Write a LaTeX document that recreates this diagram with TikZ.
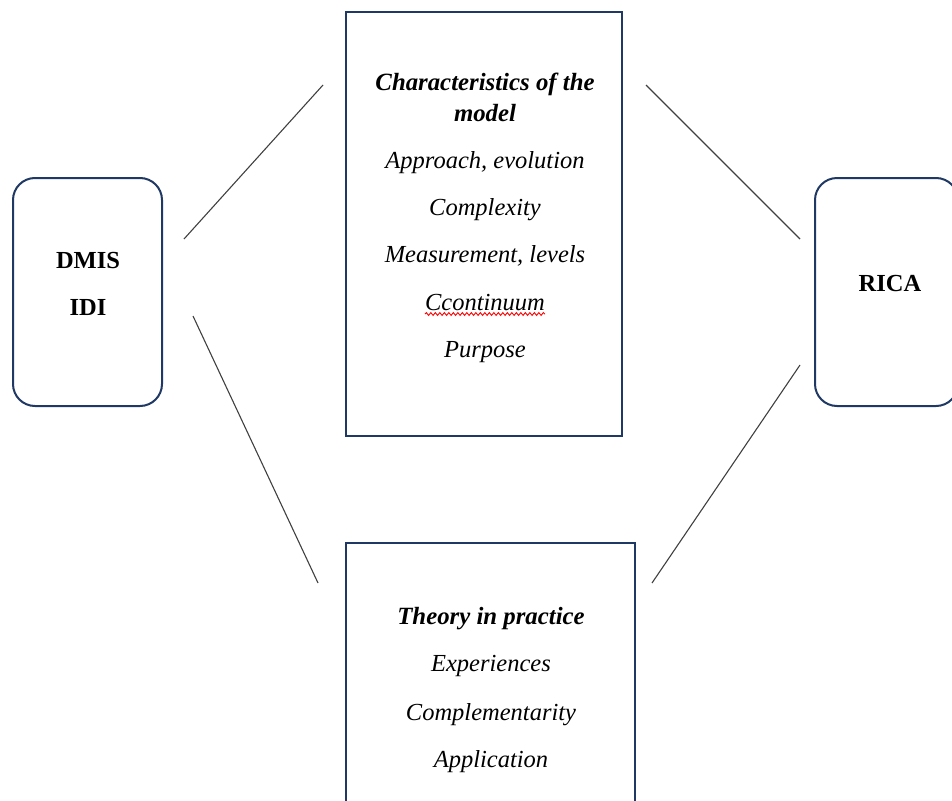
\documentclass[tikz,border=0pt]{standalone}
\usepackage{fontspec}
\setmainfont{Liberation Serif}
\usetikzlibrary{decorations.pathmorphing}
\definecolor{navy}{HTML}{1F3864}

\begin{document}
\begin{tikzpicture}[x=1pt, y=-1pt, font=\fontsize{24.5}{31}\selectfont]
  \useasboundingbox (0,0) rectangle (952,800);
  \clip (0,0) rectangle (952,800);

  % boxes
  \node (dmisbox) [draw=navy, line width=2pt, rounded corners=22pt, minimum width=149pt, minimum height=228pt] at (87.5,292) {};
  \node (ricabox) [draw=navy, line width=2pt, rounded corners=22pt, minimum width=143pt, minimum height=228pt] at (886.5,292) {};
  \node (charbox) [draw=navy, line width=2pt, minimum width=276pt, minimum height=424pt] at (484,224) {};
  \node (practbox) [draw=navy, line width=2pt, minimum width=289pt, minimum height=290pt] at (490.5,688) {};

  % texts
  \node (dmis) [anchor=base, inner sep=0, font=\fontsize{24.5}{31}\selectfont\bfseries] at (88,268) {DMIS};
  \node (idi) [anchor=base, inner sep=0, font=\fontsize{24.5}{31}\selectfont\bfseries] at (88,315) {IDI};
  \node (rica) [anchor=base, inner sep=0, font=\fontsize{24.5}{31}\selectfont\bfseries] at (890,291) {RICA};

  \node (title1) [anchor=base, inner sep=0, font=\fontsize{24.8}{31}\selectfont\bfseries\itshape] at (485,90) {Characteristics of the};
  \node (title2) [anchor=base, inner sep=0, font=\fontsize{24.8}{31}\selectfont\bfseries\itshape] at (485,121) {model};
  \node (appr) [anchor=base, inner sep=0, font=\fontsize{24.5}{31}\selectfont\itshape] at (485,168) {Approach, evolution};
  \node (compl) [anchor=base, inner sep=0, font=\fontsize{24.5}{31}\selectfont\itshape] at (485,215) {Complexity};
  \node (meas) [anchor=base, inner sep=0, font=\fontsize{24.5}{31}\selectfont\itshape] at (485,262) {Measurement, levels};
  \node (cc) [anchor=base, inner sep=0, font=\fontsize{24.5}{31}\selectfont\itshape] at (485,310) {Ccontinuum};
  \node (purp) [anchor=base, inner sep=0, font=\fontsize{24.5}{31}\selectfont\itshape] at (485,357) {Purpose};
  \draw[red, line width=0.9pt, decorate, decoration={snake, amplitude=1.4pt, segment length=4.5pt}]
    ([yshift=-4pt]cc.base west) -- ([yshift=-4pt]cc.base east);

  \node (theory) [anchor=base, inner sep=0, font=\fontsize{24.8}{31}\selectfont\bfseries\itshape] at (491,624) {Theory in practice};
  \node (exper) [anchor=base, inner sep=0, font=\fontsize{24.5}{31}\selectfont\itshape] at (491,671) {Experiences};
  \node (compt) [anchor=base, inner sep=0, font=\fontsize{24.5}{31}\selectfont\itshape] at (491,720) {Complementarity};
  \node (appl) [anchor=base, inner sep=0, font=\fontsize{24.5}{31}\selectfont\itshape] at (491,767) {Application};

  % connectors
  \coordinate (a1) at (184,239);
  \coordinate (a2) at (323,85);
  \coordinate (b1) at (193,316);
  \coordinate (b2) at (318,583);
  \coordinate (c1) at (646,85);
  \coordinate (c2) at (800,239);
  \coordinate (d1) at (652,583);
  \coordinate (d2) at (800,365);
  \draw[black!75, line width=1.1pt] (a1) -- (a2);
  \draw[black!75, line width=1.1pt] (b1) -- (b2);
  \draw[black!75, line width=1.1pt] (c1) -- (c2);
  \draw[black!75, line width=1.1pt] (d1) -- (d2);
\end{tikzpicture}
\end{document}
